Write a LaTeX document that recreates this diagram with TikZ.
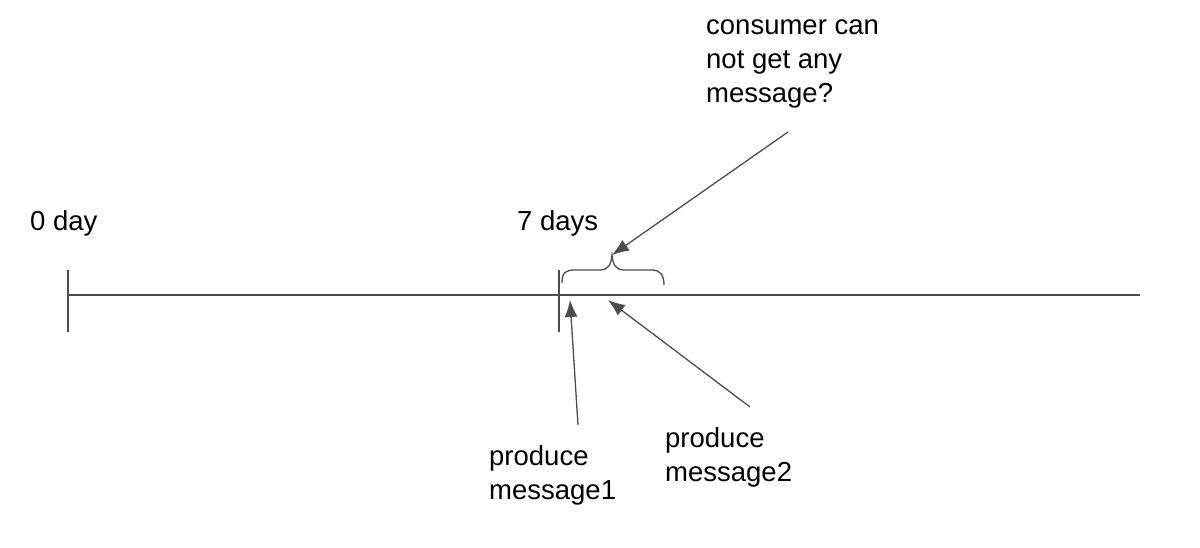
\documentclass[tikz,border=0pt]{standalone}
\usepackage{fontspec}
\setmainfont{Liberation Sans}
\begin{document}
\begin{tikzpicture}[x=1pt,y=-1pt,
  ln/.style={draw=black!70,line width=1.3pt},
  arr/.style={ln,-{Latex[length=17pt,width=13pt]}},
  lbl/.style={font=\fontsize{27.5}{34}\selectfont,align=left,inner sep=0pt,anchor=north west}]
\usetikzlibrary{arrows.meta}
\useasboundingbox (0,0) rectangle (1200,548);
\coordinate (l0) at (68,295); \coordinate (l1) at (1140,295);
\draw[ln] (l0) -- (l1);
\draw[ln] (68,270) -- (68,332);
\draw[ln] (559,270) -- (559,332);
\draw[ln] (562,283) .. controls (562,272) and (566,270) .. (575,270) -- (600,270)
  .. controls (608,270) and (611,265) .. (612,255) coordinate (tip)
  .. controls (613,265) and (616,270) .. (624,270) -- (652,270)
  .. controls (660,270) and (664,275) .. (664,285);
\node[lbl] (d0) at (30,210) {0 day};
\node[lbl] (d7) at (517,210) {7 days};
\node[lbl] (c) at (706,20) {consumer can\\not get any\\message?};
\node[lbl] (p1) at (489,445) {produce\\message1};
\node[lbl] (p2) at (665,427) {produce\\message2};
\coordinate (a1) at (788,132);
\coordinate (b1) at (578,425);
\coordinate (b2) at (750,407);
\draw[arr] (a1) -- (tip);
\draw[arr] (b1) -- (570,300);
\draw[arr] (b2) -- (608,300);
\end{tikzpicture}
\end{document}
